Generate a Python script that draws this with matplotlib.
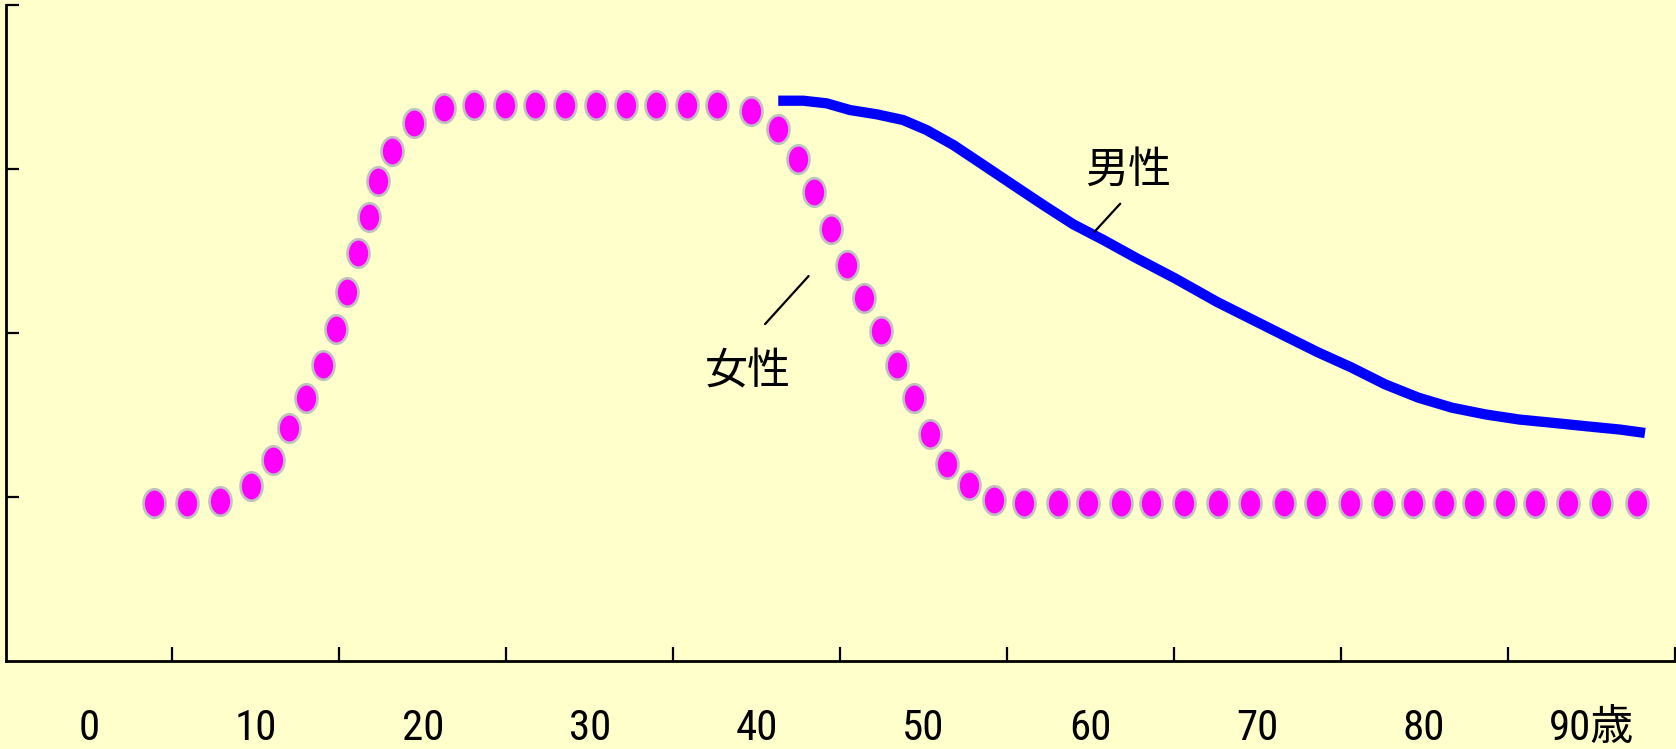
import numpy as np
import matplotlib
matplotlib.use('Agg')
from matplotlib import pyplot as plt
from matplotlib.path import Path

# female (dotted curve): age, level
female_age = [3.90, 5.89, 7.87, 9.71, 11.01, 12.00, 13.00, 14.01, 14.82, 15.48,
              16.14, 16.80, 17.32, 18.16, 19.46, 21.25, 23.09, 24.91, 26.73, 28.54,
              30.36, 32.18, 33.99, 35.81, 37.63, 39.64, 41.30, 42.47, 43.46, 44.46,
              45.44, 46.44, 47.44, 48.43, 49.42, 50.39, 51.39, 52.73, 54.23, 56.05,
              58.04, 59.85, 61.82, 63.63, 65.62, 67.62, 69.56, 71.60, 73.54, 75.54,
              77.53, 79.34, 81.18, 82.99, 84.85, 86.63, 88.63, 90.62, 92.75]
female_val = [0.959, 0.959, 0.975, 1.066, 1.223, 1.418, 1.601, 1.804, 2.024, 2.246,
              2.484, 2.703, 2.926, 3.109, 3.276, 3.368, 3.386, 3.386, 3.386, 3.386,
              3.386, 3.386, 3.386, 3.386, 3.386, 3.349, 3.240, 3.057, 2.855, 2.634,
              2.414, 2.211, 2.008, 1.804, 1.603, 1.382, 1.199, 1.071, 0.979, 0.961,
              0.961, 0.961, 0.961, 0.961, 0.961, 0.961, 0.961, 0.961, 0.961, 0.961,
              0.961, 0.961, 0.961, 0.961, 0.961, 0.961, 0.961, 0.961, 0.961]

# male (solid line)
male_age = [41.30, 42.80, 44.20, 45.60, 47.20, 48.79, 50.19, 51.79, 53.59, 55.38,
            57.18, 58.98, 60.78, 62.78, 65.07, 67.59, 69.61, 71.61, 73.63, 75.63,
            77.65, 79.66, 81.67, 83.68, 85.69, 87.70, 89.71, 91.72, 93.23]
male_val = [3.414, 3.414, 3.398, 3.357, 3.331, 3.296, 3.235, 3.144, 3.022, 2.900,
            2.778, 2.660, 2.565, 2.453, 2.331, 2.187, 2.084, 1.982, 1.880, 1.788,
            1.685, 1.603, 1.542, 1.501, 1.470, 1.450, 1.429, 1.409, 1.388]

xtick_labels = ['0', '10', '20', '30', '40', '50', '60', '70', '80', '90歳']

bg = '#ffffcc'
W, H = 1676, 749
fig = plt.figure(figsize=(W / 100, H / 100), dpi=100, facecolor=bg)
ax = fig.add_axes([5.5 / W, (H - 660.6) / H, 1669 / W, 656 / H], facecolor=bg)

# tall ellipse marker
circ = Path.unit_circle()
ell = Path(circ.vertices * np.array([0.77, 1.0]), circ.codes)

ax.plot(male_age, male_val, color='#0000ff', lw=7.4, solid_capstyle='butt',
        solid_joinstyle='round', zorder=3)
ax.plot(female_age, female_val, ls='none', marker=ell, ms=20.5,
        mfc='#ff00ff', mec='#c0c0c0', mew=1.9, zorder=4, clip_on=False)

# labels with leader lines
cjk = ['Noto Sans CJK JP']
ax.text(62.24, 2.985, '男性', fontsize=31, ha='center', va='center', family=cjk)
ax.annotate('', xy=(60.25, 2.615), xytext=(61.79, 2.786),
            arrowprops=dict(arrowstyle='-', lw=1.6, color='black',
                            shrinkA=0, shrinkB=0))
ax.text(39.49, 1.757, '女性', fontsize=31, ha='center', va='center', family=cjk)
ax.annotate('', xy=(40.51, 2.052), xytext=(43.12, 2.345),
            arrowprops=dict(arrowstyle='-', lw=1.6, color='black',
                            shrinkA=0, shrinkB=0))

ax.set_xlim(-5, 95)
ax.set_ylim(0, 4)
ax.set_xticks(range(0, 100, 10))
ax.set_xticklabels(xtick_labels, fontsize=31,
                   family=['Roboto Condensed', 'Noto Sans CJK JP'])
ax.set_xticks(np.arange(5, 100, 10), minor=True)
ax.set_yticks([1, 2, 3, 4])
ax.set_yticklabels([])
ax.tick_params(axis='x', which='major', length=0, pad=34)
ax.tick_params(axis='x', which='minor', direction='in', length=10, width=1.6)
ax.tick_params(axis='y', which='major', direction='in', length=9, width=1.6)

for s in ['top', 'right']:
    ax.spines[s].set_visible(False)
for s in ['left', 'bottom']:
    ax.spines[s].set_linewidth(2)

fig.savefig('out.png', dpi=100, facecolor=bg)
